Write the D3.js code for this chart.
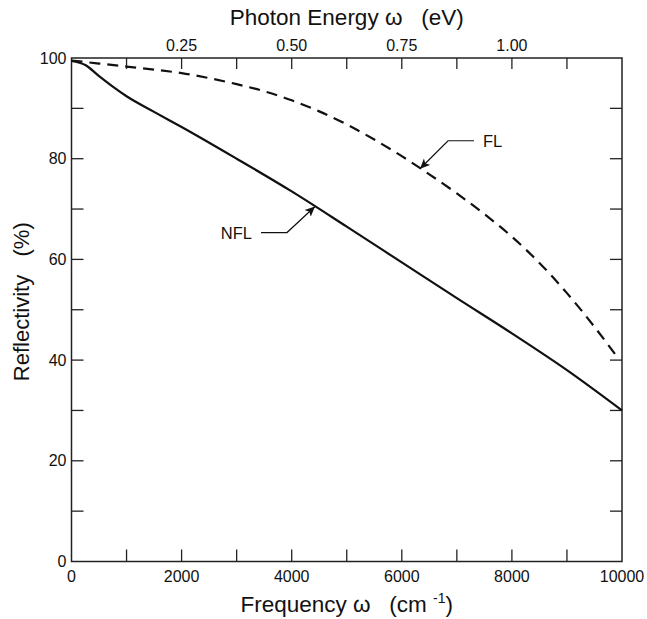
<!DOCTYPE html>
<html>
<head>
<meta charset="utf-8">
<script src="https://cdn.jsdelivr.net/npm/d3@7"></script>
<style>
  body { margin: 0; background: #fff; }
  text { font-family: "Liberation Sans", Arial, sans-serif; fill: #111; }
</style>
</head>
<body>
<svg width="647" height="619"></svg>
<script>
// frequency in cm^-1, reflectivity in %
const nflFreq = [0, 250, 500, 750, 1000, 1500, 2000, 3000, 4000, 5000, 6000, 7000, 8000, 9000, 10000];
const nflRefl = [99.4, 98.6, 96.4, 94.3, 92.4, 89.3, 86.3, 80.0, 73.5, 66.5, 59.4, 52.3, 45.3, 38.0, 30.0];

const flFreq = [0, 500, 1000, 1500, 2000, 2500, 3000, 3500, 4000, 4500, 5000, 5500, 6000, 6500, 7000, 7500, 8000, 8500, 9000, 9500, 9900];
const flRefl = [99.5, 98.9, 98.3, 97.7, 97.0, 96.0, 94.8, 93.4, 91.6, 89.4, 86.8, 83.8, 80.5, 76.9, 73.1, 69.0, 64.5, 59.3, 53.3, 46.6, 40.8];

const freqTicks = [0, 2000, 4000, 6000, 8000, 10000];
const freqMinor = d3.range(0, 10001, 1000);
const reflTicks = [0, 20, 40, 60, 80, 100];
const reflMinor = d3.range(0, 101, 10);
const evTicks = [0.25, 0.5, 0.75, 1.0];
const evMinor = [0.125, 0.25, 0.375, 0.5, 0.625, 0.75, 0.875, 1.0, 1.125];

// annotation anchors: label, arrow tip (freq, refl)
const notes = [
  { label: "NFL", freq: 4423, refl: 70.5, side: "left" },
  { label: "FL", freq: 6331, refl: 78.0, side: "right" }
];

const svg = d3.select("svg");
const margin = { top: 58, right: 25, bottom: 57.5, left: 71.5 };
const width = 647 - margin.left - margin.right;
const height = 619 - margin.top - margin.bottom;

const x = d3.scaleLinear().domain([0, 10000]).range([0, width]);
const xEv = d3.scaleLinear().domain([0, 1.25]).range([0, width]);
const y = d3.scaleLinear().domain([0, 100]).range([height, 0]);

svg.append("defs").append("marker")
  .attr("id", "arrow")
  .attr("viewBox", "0 0 10 10")
  .attr("refX", 10)
  .attr("refY", 5)
  .attr("markerWidth", 10)
  .attr("markerHeight", 10)
  .attr("markerUnits", "userSpaceOnUse")
  .attr("orient", "auto")
  .append("path")
  .attr("d", "M0,0.5 L10,5 L0,9.5 L2.5,5 Z")
  .attr("fill", "#111");

const g = svg.append("g")
  .attr("transform", `translate(${margin.left},${margin.top})`);

// frame
g.append("rect")
  .attr("width", width)
  .attr("height", height)
  .attr("fill", "none")
  .attr("stroke", "#222")
  .attr("stroke-width", 1.5);

const tickLen = 12;

// bottom ticks (inward)
g.selectAll(".xtick").data(freqMinor.slice(1, -1)).enter().append("line")
  .attr("x1", d => x(d)).attr("x2", d => x(d))
  .attr("y1", height).attr("y2", height - tickLen)
  .attr("stroke", "#222").attr("stroke-width", 1.3);

// top ticks in eV
g.selectAll(".evtick").data(evMinor).enter().append("line")
  .attr("x1", d => xEv(d)).attr("x2", d => xEv(d))
  .attr("y1", 0).attr("y2", tickLen - 1)
  .attr("stroke", "#222").attr("stroke-width", 1.3);

// left + right ticks
g.selectAll(".ytickl").data(reflMinor.slice(1, -1)).enter().append("line")
  .attr("x1", 0).attr("x2", tickLen)
  .attr("y1", d => y(d)).attr("y2", d => y(d))
  .attr("stroke", "#222").attr("stroke-width", 1.3);
g.selectAll(".ytickr").data(reflMinor.slice(1, -1)).enter().append("line")
  .attr("x1", width).attr("x2", width - tickLen)
  .attr("y1", d => y(d)).attr("y2", d => y(d))
  .attr("stroke", "#222").attr("stroke-width", 1.3);

// tick labels
g.selectAll(".xlab").data(freqTicks).enter().append("text")
  .attr("x", d => x(d))
  .attr("y", height + 20)
  .attr("text-anchor", "middle")
  .attr("font-size", 16)
  .text(d => d);

g.selectAll(".evlab").data(evTicks).enter().append("text")
  .attr("x", d => xEv(d))
  .attr("y", -7)
  .attr("text-anchor", "middle")
  .attr("font-size", 16)
  .text(d => d.toFixed(2));

g.selectAll(".ylab").data(reflTicks).enter().append("text")
  .attr("x", -5)
  .attr("y", d => y(d) + 5.5)
  .attr("text-anchor", "end")
  .attr("font-size", 16)
  .text(d => d);

// axis titles
svg.append("text")
  .attr("x", margin.left + width / 2)
  .attr("y", 25)
  .attr("text-anchor", "middle")
  .attr("font-size", 22.5)
  .attr("xml:space", "preserve")
  .text("Photon Energy ω   (eV)");

const xt = svg.append("text")
  .attr("x", margin.left + width / 2)
  .attr("y", 612)
  .attr("text-anchor", "middle")
  .attr("font-size", 22.5)
  .attr("xml:space", "preserve");
xt.append("tspan").text("Frequency ω   (cm ");
xt.append("tspan").attr("font-size", 14).attr("dy", -9).text("-1");
xt.append("tspan").attr("dy", 9).text(")");

svg.append("text")
  .attr("transform", `translate(29,${margin.top + height / 2 - 8}) rotate(-90)`)
  .attr("text-anchor", "middle")
  .attr("font-size", 22)
  .attr("xml:space", "preserve")
  .text("Reflectivity   (%)");

// curves
const line = d3.line()
  .x(d => x(d[0]))
  .y(d => y(d[1]))
  .curve(d3.curveMonotoneX);

g.append("path")
  .datum(d3.zip(nflFreq, nflRefl))
  .attr("d", line)
  .attr("fill", "none")
  .attr("stroke", "#111")
  .attr("stroke-width", 2.2);

g.append("path")
  .datum(d3.zip(flFreq, flRefl))
  .attr("d", line)
  .attr("fill", "none")
  .attr("stroke", "#111")
  .attr("stroke-width", 2.2)
  .attr("stroke-dasharray", "11,7");

// annotations
notes.forEach(n => {
  const tx = x(n.freq), ty = y(n.refl);
  const dir = n.side === "left" ? -1 : 1;
  const kx = tx + dir * 28;
  const ky = ty + (n.side === "left" ? 26 : -28);
  const ex = kx + dir * 26;
  g.append("path")
    .attr("d", `M${ex},${ky} L${kx},${ky} L${tx},${ty}`)
    .attr("fill", "none")
    .attr("stroke", "#111")
    .attr("stroke-width", 1.2)
    .attr("marker-end", "url(#arrow)");
  g.append("text")
    .attr("x", ex + dir * 9)
    .attr("y", ky + 6)
    .attr("text-anchor", n.side === "left" ? "end" : "start")
    .attr("font-size", 16.5)
    .text(n.label);
});
</script>
</body>
</html>
